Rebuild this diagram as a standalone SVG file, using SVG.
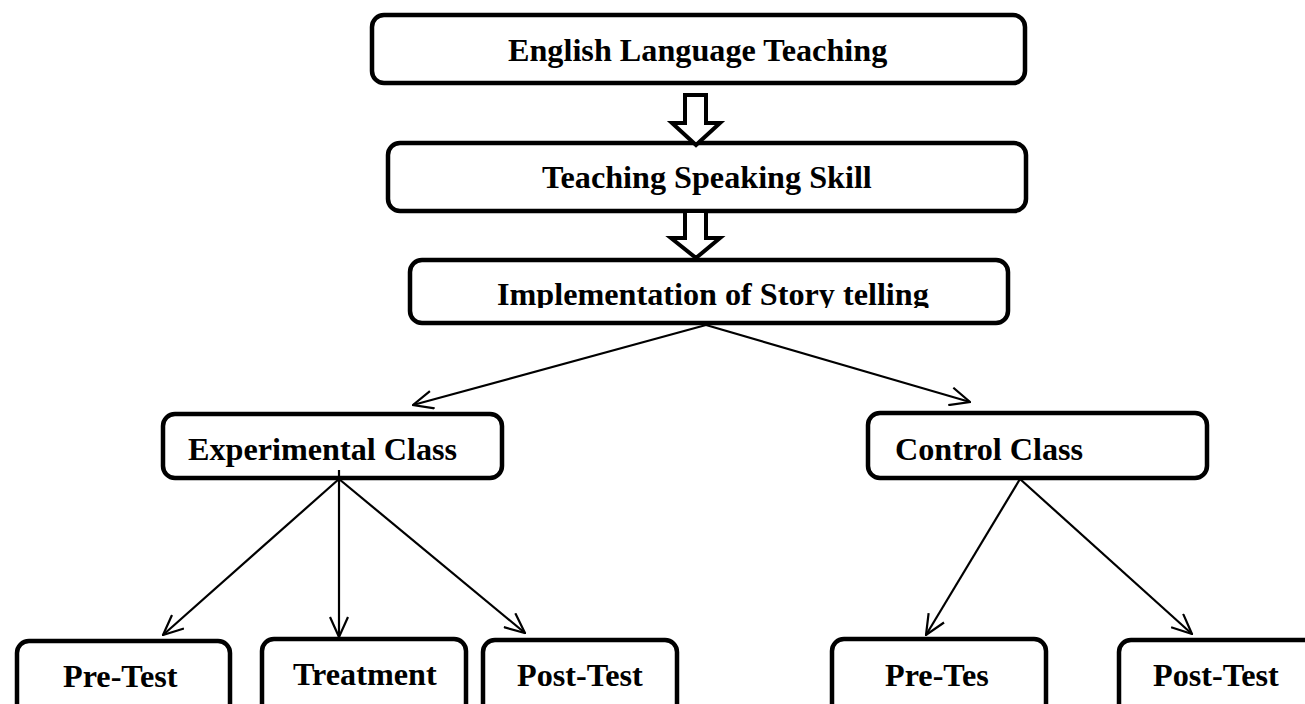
<svg xmlns="http://www.w3.org/2000/svg" width="1305" height="704" viewBox="0 0 1305 704">
<style>
.box{fill:#fff;stroke:#000;stroke-width:4.5}
.lbl{font-family:"Liberation Serif","Times New Roman",serif;font-weight:bold;font-size:32.2px;fill:#000}
.con{stroke:#000;stroke-width:2.2;fill:none}
.hollow{fill:#fff;stroke:#000;stroke-width:4;stroke-linejoin:miter}
</style>
<defs>
<marker id="arr" viewBox="0 0 22 20" refX="21" refY="10" markerWidth="22" markerHeight="20" markerUnits="userSpaceOnUse" orient="auto">
<path d="M1,1 L21,10 L1,19" fill="none" stroke="#000" stroke-width="2.2"/>
</marker>
<clipPath id="clip3"><rect x="400" y="255" width="620" height="53"/></clipPath>
</defs>
<rect width="1305" height="704" fill="#fff"/>
<g id="n1"><rect class="box" x="372" y="15" width="653" height="68" rx="12"/><text class="lbl" x="508" y="61">English Language Teaching</text></g>
<g id="n2"><rect class="box" x="388" y="143" width="638" height="68" rx="12"/><text class="lbl" x="542" y="188">Teaching Speaking Skill</text></g>
<g id="n3"><rect class="box" x="410" y="260" width="598" height="63" rx="12"/><text class="lbl" x="497" y="305" clip-path="url(#clip3)">Implementation of Story telling</text></g>
<g id="n4"><rect class="box" x="163" y="414" width="339" height="64" rx="12"/><text class="lbl" x="188" y="460">Experimental Class</text></g>
<g id="n5"><rect class="box" x="868" y="413" width="339" height="65" rx="12"/><text class="lbl" x="895" y="460">Control Class</text></g>
<g id="n6"><rect class="box" x="17" y="641" width="213" height="80" rx="12"/><text class="lbl" x="63" y="687">Pre-Test</text></g>
<g id="n7"><rect class="box" x="262" y="639" width="204" height="80" rx="12"/><text class="lbl" x="293" y="685">Treatment</text></g>
<g id="n8"><rect class="box" x="483" y="640" width="194" height="80" rx="12"/><text class="lbl" x="517" y="686">Post-Test</text></g>
<g id="n9"><rect class="box" x="832" y="639" width="214" height="80" rx="12"/><text class="lbl" x="885" y="686">Pre-Tes</text></g>
<g id="n10"><rect class="box" x="1119" y="640" width="200" height="80" rx="12"/><text class="lbl" x="1153" y="686">Post-Test</text></g>
<g id="connectors">
<path class="hollow" d="M685,95 L706,95 L706,123 L720,123 L696,145 L672,123 L685,123 Z"/>
<path class="hollow" d="M685,211 L706,211 L706,238 L720,238 L696,258 L671,238 L685,238 Z"/>
<line class="con" x1="706" y1="325" x2="413" y2="405" marker-end="url(#arr)"/>
<line class="con" x1="706" y1="325" x2="970" y2="402" marker-end="url(#arr)"/>
<line class="con" x1="339" y1="479" x2="163" y2="635" marker-end="url(#arr)"/>
<line class="con" x1="339" y1="470" x2="339" y2="637" marker-end="url(#arr)"/>
<line class="con" x1="339" y1="479" x2="525" y2="633" marker-end="url(#arr)"/>
<line class="con" x1="1020" y1="479" x2="926" y2="635" marker-end="url(#arr)"/>
<line class="con" x1="1020" y1="479" x2="1192" y2="634" marker-end="url(#arr)"/>
</g>
</svg>
